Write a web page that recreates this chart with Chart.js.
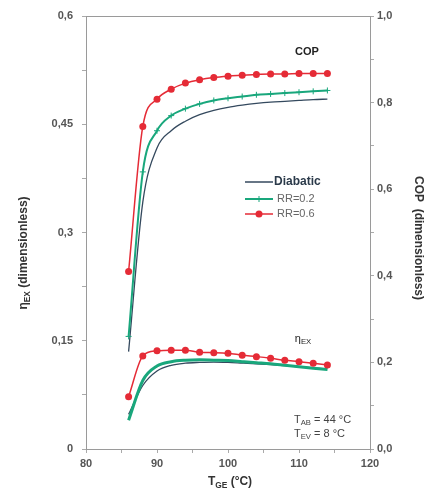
<!DOCTYPE html>
<html>
<head>
<meta charset="utf-8">
<script src="https://cdn.jsdelivr.net/npm/chart.js@4.4.1/dist/chart.umd.min.js"></script>
<style>
  body { margin: 0; background: #fff; }
  #wrap { width: 432px; height: 488px; position: relative; }
</style>
</head>
<body>
<div id="wrap"><canvas id="chart"></canvas></div>
<script>
// generator temperature (°C)
const tGE = [86, 88, 90, 92, 94, 96, 98, 100, 102, 104, 106, 108, 110, 112, 114];

// COP (right axis)
const copDiabatic = [0.225, 0.57, 0.695, 0.735, 0.757, 0.772, 0.782, 0.789, 0.794, 0.798, 0.801, 0.803, 0.805, 0.807, 0.808];
const copRR02 = [0.26, 0.64, 0.735, 0.77, 0.786, 0.797, 0.805, 0.81, 0.814, 0.818, 0.82, 0.822, 0.824, 0.826, 0.828];
const copRR06 = [0.41, 0.745, 0.808, 0.831, 0.845, 0.853, 0.858, 0.861, 0.863, 0.865, 0.866, 0.866, 0.867, 0.867, 0.867];

// exergetic efficiency (left axis)
const etaDiabatic = [0.048, 0.088, 0.108, 0.116, 0.119, 0.12, 0.1205, 0.12, 0.119, 0.118, 0.117, 0.1155, 0.114, 0.1125, 0.111];
const etaRR02 = [0.04, 0.095, 0.115, 0.121, 0.123, 0.1235, 0.123, 0.1225, 0.121, 0.1195, 0.118, 0.116, 0.114, 0.112, 0.11];
const etaRR06 = [0.0725, 0.129, 0.136, 0.137, 0.137, 0.134, 0.1335, 0.1326, 0.13, 0.128, 0.1257, 0.123, 0.121, 0.1187, 0.1164];

const xTicks = [80, 90, 100, 110, 120];

const RED = '#e52b36';
const GREEN = '#19a77c';
const DARK = '#34495e';
const TICK_FONT = { family: 'Liberation Sans', size: 11, weight: 'bold' };

function pts(ys) {
  return tGE.map((x, i) => ({ x: x, y: ys[i] }));
}

function line(data, axis, color, width, extra) {
  return Object.assign({
    data: pts(data),
    yAxisID: axis,
    borderColor: color,
    backgroundColor: color,
    borderWidth: width,
    pointRadius: 0,
    cubicInterpolationMode: 'monotone',
    fill: false
  }, extra || {});
}

// text with subscripts: parts = [[text, isSub], ...]
function subText(ctx, parts, x, y, size, bold, align) {
  const f = s => (bold ? 'bold ' : '') + s + 'px "Liberation Sans", Arial, sans-serif';
  let w = 0;
  parts.forEach(p => { ctx.font = f(p[1] ? size * 0.7 : size); w += ctx.measureText(p[0]).width; });
  let cx = align === 'center' ? x - w / 2 : x;
  ctx.textAlign = 'left';
  ctx.textBaseline = 'middle';
  parts.forEach(p => {
    ctx.font = f(p[1] ? size * 0.7 : size);
    ctx.fillText(p[0], cx, p[1] ? y + size * 0.3 : y);
    cx += ctx.measureText(p[0]).width;
  });
}

const decor = {
  id: 'decor',
  afterDraw(chart) {
    const ctx = chart.ctx;
    const a = chart.chartArea;
    ctx.save();
    ctx.strokeStyle = '#9a9a9a';
    ctx.lineWidth = 1;
    ctx.strokeRect(a.left + 0.5, a.top + 0.5, a.right - a.left, a.bottom - a.top);

    // axis titles
    ctx.fillStyle = '#333';
    subText(ctx, [['T', false], ['GE', true], [' (°C)', false]], 230, 482, 12, true, 'center');
    ctx.save();
    ctx.translate(24, 253);
    ctx.rotate(-Math.PI / 2);
    subText(ctx, [['η', false], ['EX', true], [' (dimensionless)', false]], 0, 0, 12, true, 'center');
    ctx.restore();
    ctx.save();
    ctx.translate(418, 238);
    ctx.rotate(Math.PI / 2);
    subText(ctx, [['COP  (dimensionless)', false]], 0, 0, 12, true, 'center');
    ctx.restore();

    // curve labels
    ctx.fillStyle = '#222';
    subText(ctx, [['COP', false]], 307, 52, 11, true, 'center');
    subText(ctx, [['η', false], ['EX', true]], 303, 339, 11, false, 'center');
    ctx.fillStyle = '#444';
    subText(ctx, [['T', false], ['AB', true], [' = 44 °C', false]], 294, 420, 11, false, 'left');
    subText(ctx, [['T', false], ['EV', true], [' = 8 °C', false]], 294, 434, 11, false, 'left');

    // legend
    const items = [
      { label: 'Diabatic', color: DARK, y: 182, bold: true, marker: null },
      { label: 'RR=0.2', color: GREEN, y: 199, bold: false, marker: 'cross' },
      { label: 'RR=0.6', color: RED, y: 214, bold: false, marker: 'dot' }
    ];
    items.forEach(it => {
      ctx.strokeStyle = it.color;
      ctx.lineWidth = it.marker === 'cross' ? 2 : 1.5;
      ctx.beginPath();
      ctx.moveTo(245, it.y);
      ctx.lineTo(273, it.y);
      ctx.stroke();
      if (it.marker === 'dot') {
        ctx.fillStyle = it.color;
        ctx.beginPath();
        ctx.arc(259, it.y, 3.5, 0, Math.PI * 2);
        ctx.fill();
      } else if (it.marker === 'cross') {
        ctx.lineWidth = 1;
        ctx.beginPath();
        ctx.moveTo(259, it.y - 3);
        ctx.lineTo(259, it.y + 3);
        ctx.stroke();
      }
      ctx.fillStyle = it.bold ? '#2b3a4a' : '#666';
      subText(ctx, [[it.label, false]], it.bold ? 274 : 277, it.y, it.bold ? 12 : 11, it.bold, 'left');
    });
    ctx.restore();
  }
};

new Chart(document.getElementById('chart').getContext('2d'), {
  type: 'line',
  data: {
    datasets: [
      line(copRR06, 'y1', RED, 1.5, { pointRadius: 3.5, pointBorderWidth: 0, order: 1 }),
      line(copRR02, 'y1', GREEN, 2, { pointRadius: 3, pointStyle: 'cross', pointBorderWidth: 1, order: 2 }),
      line(copDiabatic, 'y1', DARK, 1.3, { order: 3 }),
      line(etaRR06, 'y', RED, 1.5, { pointRadius: 3.5, pointBorderWidth: 0, order: 1 }),
      line(etaRR02, 'y', GREEN, 3, { order: 2 }),
      line(etaDiabatic, 'y', DARK, 1.3, { order: 3 })
    ]
  },
  options: {
    responsive: true,
    maintainAspectRatio: false,
    animation: false,
    devicePixelRatio: 1,
    layout: { padding: { top: 16 } },
    plugins: { legend: { display: false }, tooltip: { enabled: false } },
    scales: {
      x: {
        type: 'linear',
        min: 80,
        max: 120,
        afterFit: s => { s.height = 39; },
        ticks: {
          stepSize: 5,
          autoSkip: false,
          maxRotation: 0,
          padding: 4,
          color: '#555',
          font: TICK_FONT,
          callback: v => xTicks.includes(v) ? String(v) : ''
        },
        grid: { drawOnChartArea: false, tickLength: 4, color: '#aaa' },
        border: { color: '#9a9a9a' }
      },
      y: {
        position: 'left',
        min: 0,
        max: 0.6,
        afterFit: s => { s.width = 86; },
        ticks: {
          stepSize: 0.075,
          autoSkip: false,
          padding: 9,
          color: '#555',
          font: TICK_FONT,
          callback: v => {
            const k = Math.round(v / 0.075);
            return k % 2 ? '' : String(+(k * 0.075).toFixed(2)).replace('.', ',');
          }
        },
        grid: { drawOnChartArea: false, tickLength: 4, color: '#aaa' },
        border: { color: '#9a9a9a' }
      },
      y1: {
        position: 'right',
        min: 0,
        max: 1,
        afterFit: s => { s.width = 62; },
        ticks: {
          stepSize: 0.1,
          autoSkip: false,
          padding: 3,
          color: '#555',
          font: TICK_FONT,
          callback: v => {
            const k = Math.round(v * 10);
            return k % 2 ? '' : (k / 10).toFixed(1).replace('.', ',');
          }
        },
        grid: { drawOnChartArea: false, tickLength: 4, color: '#aaa' },
        border: { color: '#9a9a9a' }
      }
    }
  },
  plugins: [decor]
});
</script>
</body>
</html>
